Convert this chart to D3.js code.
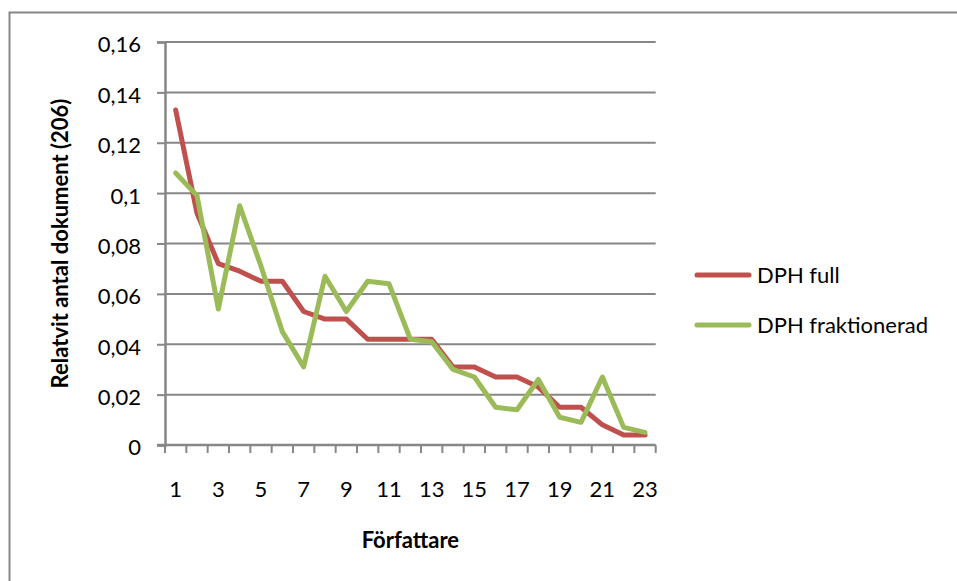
<!DOCTYPE html>
<html>
<head>
<meta charset="utf-8">
<script src="https://cdn.jsdelivr.net/npm/d3@7"></script>
<style>
  body { margin: 0; background: #fff; }
  text { font-family: Lato, "Open Sans", sans-serif; fill: #000; }
</style>
</head>
<body>
<div id="chart"></div>
<script>
var authors = d3.range(1, 24);
var dphFull = [0.133, 0.092, 0.072, 0.069, 0.065, 0.065, 0.053, 0.050, 0.050, 0.042, 0.042, 0.042,
               0.042, 0.031, 0.031, 0.027, 0.027, 0.023, 0.015, 0.015, 0.008, 0.004, 0.004];
var dphFrak = [0.108, 0.099, 0.054, 0.095, 0.071, 0.045, 0.031, 0.067, 0.053, 0.065, 0.064, 0.042,
               0.041, 0.030, 0.027, 0.015, 0.014, 0.026, 0.011, 0.009, 0.027, 0.007, 0.005];
var yTicks = [0, 0.02, 0.04, 0.06, 0.08, 0.1, 0.12, 0.14, 0.16];
var xLabels = [1, 3, 5, 7, 9, 11, 13, 15, 17, 19, 21, 23];
var seriesNames = ["DPH full", "DPH fraktionerad"];
var seriesColors = ["#c0504d", "#9bbb59"];

var W = 957, H = 581;
var pLeft = 165, pRight = 655.7, pTop = 42, pBottom = 445;
var grey = "#878787";

var svg = d3.select("#chart").append("svg")
    .attr("width", W)
    .attr("height", H);

// outer chart border
svg.append("rect")
    .attr("x", 9.5).attr("y", 12.5)
    .attr("width", W + 20).attr("height", H + 20)
    .attr("fill", "none")
    .attr("stroke", grey)
    .attr("stroke-width", 2);

var x = d3.scaleBand().domain(authors).range([pLeft, pRight]);
var y = d3.scaleLinear().domain([0, 0.16]).range([pBottom, pTop]);

var sv = d3.formatLocale({decimal: ",", thousands: " ", grouping: [3], currency: ["", " kr"]});
var fmt = sv.format("~g");

// gridlines
svg.append("g")
  .selectAll("line")
  .data(yTicks.slice(1))
  .enter().append("line")
    .attr("x1", pLeft).attr("x2", pRight)
    .attr("y1", function(d){ return y(d); })
    .attr("y2", function(d){ return y(d); })
    .attr("stroke", grey)
    .attr("stroke-width", 2);

// y axis
var yAxis = svg.append("g")
    .attr("transform", "translate(" + pLeft + ",0)")
    .call(d3.axisLeft(y).tickValues(yTicks).tickFormat(fmt).tickSize(8).tickPadding(16));
yAxis.select(".domain").attr("stroke", grey).attr("stroke-width", 2.5);
yAxis.selectAll(".tick line").attr("stroke", grey).attr("stroke-width", 2);
yAxis.selectAll(".tick text")
    .attr("font-size", 22)
    .attr("font-family", "Lato, sans-serif")
    .attr("dy", "0.45em");

// x axis: ticks at category boundaries, labels at odd categories
var xg = svg.append("g");
xg.append("line")
    .attr("x1", pLeft - 8).attr("x2", pRight)
    .attr("y1", pBottom).attr("y2", pBottom)
    .attr("stroke", grey).attr("stroke-width", 2.5);
xg.selectAll(".xt")
  .data(authors.concat([24]))
  .enter().append("line")
    .attr("class", "xt")
    .attr("x1", function(d){ return d === 24 ? pRight : x(d); })
    .attr("x2", function(d){ return d === 24 ? pRight : x(d); })
    .attr("y1", pBottom).attr("y2", pBottom + 8)
    .attr("stroke", grey).attr("stroke-width", 2);
xg.selectAll(".xl")
  .data(xLabels)
  .enter().append("text")
    .attr("class", "xl")
    .attr("x", function(d){ return x(d) + x.bandwidth() / 2; })
    .attr("y", 497)
    .attr("text-anchor", "middle")
    .attr("font-size", 22)
    .text(function(d){ return d; });

// lines
var line = d3.line()
    .x(function(d, i){ return x(authors[i]) + x.bandwidth() / 2; })
    .y(function(d){ return y(d); });

[dphFull, dphFrak].forEach(function(s, k){
  svg.append("path")
      .datum(s)
      .attr("d", line)
      .attr("fill", "none")
      .attr("stroke", seriesColors[k])
      .attr("stroke-width", 5)
      .attr("stroke-linejoin", "round")
      .attr("stroke-linecap", "round");
});

// axis titles
svg.append("text")
    .attr("transform", "translate(68," + ((pTop + pBottom) / 2) + ") rotate(-90)")
    .attr("text-anchor", "middle")
    .attr("font-size", 22)
    .attr("font-weight", "bold")
    .text("Relatvit antal dokument (206)");

svg.append("text")
    .attr("x", (pLeft + pRight) / 2)
    .attr("y", 548)
    .attr("text-anchor", "middle")
    .attr("font-size", 22)
    .attr("font-weight", "bold")
    .text("Författare");

// legend
var lg = svg.append("g");
seriesNames.forEach(function(n, k){
  var ly = 275 + k * 50;
  lg.append("line")
      .attr("x1", 697).attr("x2", 749)
      .attr("y1", ly).attr("y2", ly)
      .attr("stroke", seriesColors[k])
      .attr("stroke-width", 5)
      .attr("stroke-linecap", "round");
  lg.append("text")
      .attr("x", 757)
      .attr("y", ly + 8)
      .attr("font-size", 22)
      .text(n);
});
</script>
</body>
</html>
